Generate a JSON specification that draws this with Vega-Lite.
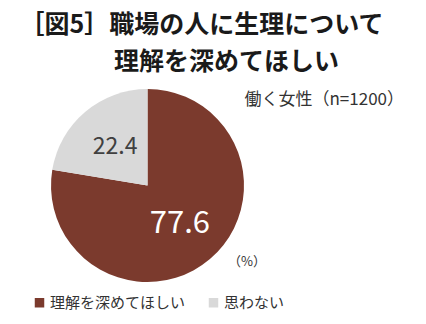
{
  "$schema": "https://vega.github.io/schema/vega-lite/v6.json",
  "width": 295,
  "height": 193,
  "autosize": "none",
  "padding": {"top": 89, "left": 0, "right": 131, "bottom": 42},
  "background": "white",
  "config": {"view": {"stroke": null}, "font": "Noto Sans CJK JP"},
  "title": {
    "text": ["［図5］職場の人に生理について", "\u200b\u3000\u3000理解を深めてほしい"],
    "font": "Noto Sans CJK JP",
    "fontSize": 25,
    "fontWeight": "bold",
    "color": "#1a1a1a",
    "lineHeight": 37,
    "anchor": "middle",
    "dx": 54,
    "offset": 14
  },
  "data": {
    "values": [
      {"category": "理解を深めてほしい", "value": 77.6, "rank": 1},
      {"category": "思わない", "value": 22.4, "rank": 2}
    ]
  },
  "layer": [
    {
      "mark": {"type": "arc", "stroke": null},
      "encoding": {
        "theta": {"field": "value", "type": "quantitative", "stack": true},
        "order": {"field": "rank", "type": "quantitative"},
        "color": {
          "field": "category",
          "type": "nominal",
          "scale": {"domain": ["理解を深めてほしい", "思わない"], "range": ["#7b3a2d", "#d9d9d9"]},
          "legend": {
            "title": null,
            "orient": "none",
            "direction": "horizontal",
            "legendX": 32,
            "legendY": 206,
            "symbolType": "square",
            "symbolSize": 90,
            "symbolStrokeWidth": 0,
            "symbolOpacity": 1,
            "labelFont": "Noto Sans CJK JP",
            "labelFontSize": 15,
            "labelColor": "#333333",
            "labelOffset": 3,
            "columnPadding": 20,
            "padding": 0
          }
        }
      }
    },
    {
      "mark": {"type": "text", "radius": 50, "font": "Noto Sans CJK JP", "baseline": "middle", "align": "center"},
      "encoding": {
        "theta": {"field": "value", "type": "quantitative", "stack": true},
        "order": {"field": "rank", "type": "quantitative"},
        "text": {"field": "value", "type": "quantitative", "format": ".1f"},
        "color": {
          "condition": {"test": "datum.category === '思わない'", "value": "#404040"},
          "value": "#ffffff"
        },
        "size": {
          "condition": {"test": "datum.category === '思わない'", "value": 23},
          "value": 31
        }
      }
    },
    {
      "data": {"values": [{"t": "働く女性（n=1200）"}]},
      "mark": {"type": "text", "x": 404, "y": 11, "align": "right", "baseline": "middle", "fontSize": 17, "color": "#333333", "font": "Noto Sans CJK JP"},
      "encoding": {"text": {"field": "t", "type": "nominal"}}
    },
    {
      "data": {"values": [{"t": "（%）"}]},
      "mark": {"type": "text", "x": 247, "y": 173, "align": "center", "baseline": "middle", "fontSize": 13, "color": "#333333", "font": "Noto Sans CJK JP"},
      "encoding": {"text": {"field": "t", "type": "nominal"}}
    }
  ]
}
